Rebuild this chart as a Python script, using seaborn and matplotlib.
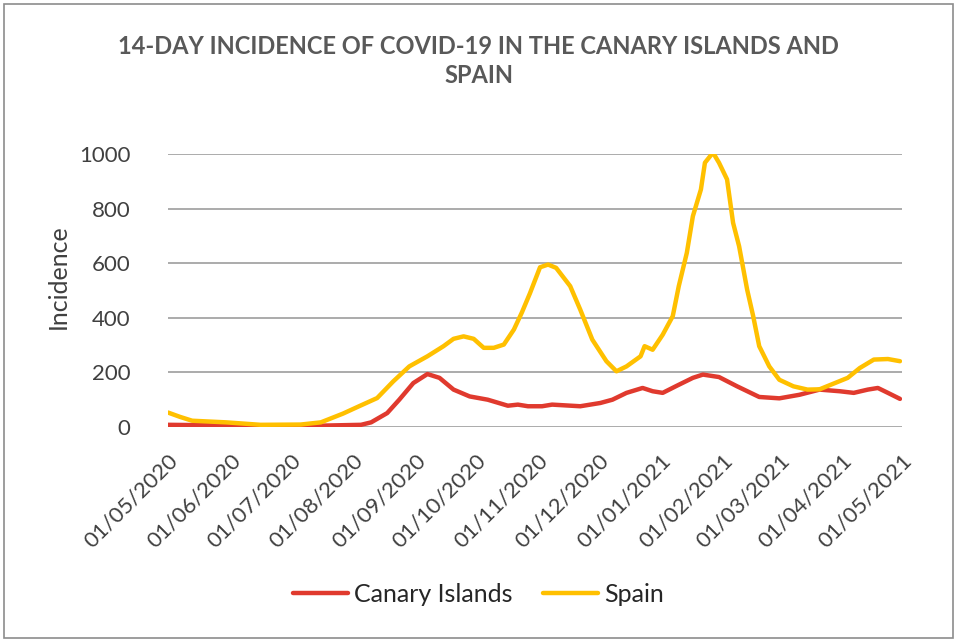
import pandas as pd
import matplotlib.pyplot as plt
from matplotlib.patches import Rectangle
import seaborn as sns

# Values (days counted from 01/05/2020)
start_date = "2020-05-01"

canary_days = [0, 40, 70, 96, 101, 109, 115, 122, 129, 135, 142, 150, 159, 169, 174,
               179, 186, 191, 205, 215, 221, 228, 236, 241, 246, 253, 261, 266, 274,
               283, 294, 304, 314, 324, 334, 341, 348, 353, 358, 364]
canary_values = [8, 5, 4, 8, 17, 51, 100, 161, 194, 180, 137, 112, 100, 78, 82,
                 76, 76, 82, 76, 88, 100, 125, 143, 131, 125, 151, 180, 192, 183,
                 149, 110, 105, 118, 137, 131, 125, 137, 143, 125, 103]

spain_days = [0, 6, 12, 29, 46, 66, 76, 87, 95, 104, 112, 120, 129, 137, 142, 147,
              152, 157, 162, 167, 172, 176, 180, 185, 189, 193, 200, 205, 211, 218,
              223, 228, 235, 237, 241, 246, 251, 254, 258, 261, 265, 267, 271, 274,
              278, 281, 284, 288, 291, 294, 299, 304, 311, 318, 324, 331, 338, 344,
              351, 358, 364]
spain_values = [53, 37, 23, 17, 8, 9, 17, 49, 76, 106, 167, 222, 259, 296, 323, 332,
                323, 290, 290, 302, 357, 420, 490, 585, 595, 583, 516, 430, 320, 241,
                204, 222, 259, 296, 283, 338, 406, 516, 638, 772, 870, 968, 1005, 968,
                907, 748, 662, 503, 406, 296, 222, 173, 149, 137, 138, 159, 180, 216,
                247, 249, 241]

tick_labels = ["01/05/2020", "01/06/2020", "01/07/2020", "01/08/2020", "01/09/2020",
               "01/10/2020", "01/11/2020", "01/12/2020", "01/01/2021", "01/02/2021",
               "01/03/2021", "01/04/2021", "01/05/2021"]

base = pd.Timestamp(start_date)
df = pd.concat([
    pd.DataFrame({"Date": base + pd.to_timedelta(canary_days, unit="D"),
                  "Incidence": canary_values, "Region": "Canary Islands"}),
    pd.DataFrame({"Date": base + pd.to_timedelta(spain_days, unit="D"),
                  "Incidence": spain_values, "Region": "Spain"}),
])

red, gold = "#E03A2E", "#FFC000"

sns.set_style("white")
plt.rcParams['font.family'] = ['Lato', 'DejaVu Sans']

fig = plt.figure(figsize=(9.57, 6.42), dpi=100)
ax = fig.add_axes([168 / 957, 1 - 427 / 642, 734 / 957, 273 / 642])

sns.lineplot(data=df, x="Date", y="Incidence", hue="Region",
             palette={"Canary Islands": red, "Spain": gold},
             linewidth=3.2, ax=ax, legend=False, zorder=3)

ax.set_ylim(0, 1000)
ax.set_yticks(range(0, 1001, 200))
tick_dates = pd.to_datetime(tick_labels, format="%d/%m/%Y")
ax.set_xlim(tick_dates[0], tick_dates[-1])
ax.set_xticks(tick_dates)
ax.set_xticklabels(tick_labels, rotation=45, ha="right", rotation_mode="anchor")
ax.tick_params(axis="both", length=0, labelsize=16, colors="#404040")
ax.tick_params(axis="x", pad=17)
ax.tick_params(axis="y", pad=27)

ax.grid(axis="y", color="#ABABAB", linewidth=1.4)
ax.grid(axis="x", visible=False)
for s in ax.spines.values():
    s.set_visible(False)
ax.set_axisbelow(True)

ax.set_xlabel("")
ax.set_ylabel("Incidence", fontsize=18, color="#404040")
ax.yaxis.set_label_coords(-98 / 734, 0.55)

fig.text(0.5, 1 - 61 / 642, "14-DAY INCIDENCE OF COVID-19 IN THE CANARY ISLANDS AND\nSPAIN",
         ha="center", va="center", fontsize=17, fontweight="bold", color="#595959",
         linespacing=1.3)

# Legend below the chart
handles = [plt.Line2D([], [], color=red, linewidth=3.2),
           plt.Line2D([], [], color=gold, linewidth=3.2)]
fig.legend(handles, ["Canary Islands", "Spain"], loc="center",
           bbox_to_anchor=(0.5, 1 - 594 / 642), ncol=2, frameon=False,
           fontsize=18, handlelength=2.2, handletextpad=0.25, columnspacing=1.2)

# Outer border of the chart area
fig.patches.append(Rectangle((4 / 957, 4 / 642), 949 / 957, 634 / 642,
                             transform=fig.transFigure, fill=False,
                             edgecolor="#8C8C8C", linewidth=1.2))

fig.savefig("out.png", dpi=100)
